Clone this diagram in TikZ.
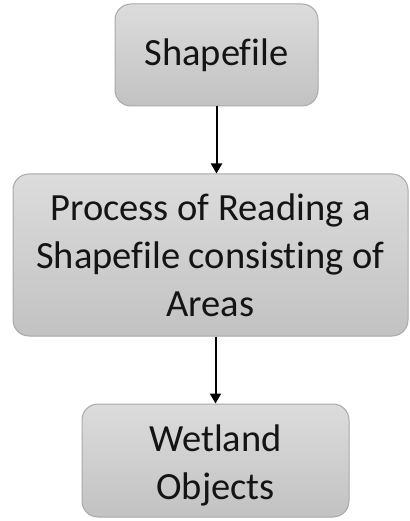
\documentclass[tikz,border=0pt]{standalone}
\usepackage{fontspec}
\setmainfont{Carlito}[Ligatures=NoCommon]
\usetikzlibrary{arrows.meta}
\definecolor{boxtop}{HTML}{DCDCDC}
\definecolor{boxbot}{HTML}{C2C2C2}
\definecolor{boxedge}{HTML}{A8A8A8}
\definecolor{ink}{HTML}{141414}
\begin{document}
\begin{tikzpicture}[x=1pt,y=-1pt,
  box/.style={draw=boxedge, line width=1pt, rounded corners=16pt,
    top color=boxtop, bottom color=boxbot, align=center, text=ink,
    font=\fontsize{38.5}{48}\selectfont, inner sep=0pt},
  flow/.style={-{Triangle[length=10pt,width=11pt]}, line width=2pt, draw=black}]
\useasboundingbox (0,0) rectangle (409,521);
% the three processing stages
\node[box, minimum width=203pt, minimum height=102pt] (shp) at (216.5,55) {Shapefile};
\node[box, minimum width=395pt, minimum height=162pt] (proc) at (210.5,255)
  {Process of Reading a\\Shapefile consisting of\\Areas};
\node[box, minimum width=267pt, minimum height=113pt] (wet) at (215.5,460.5)
  {\rule{0pt}{36pt}Wetland\\Objects};
% connectors
\draw[flow] (shp.south) -- (shp.south |- proc.north);
\draw[flow] (wet.north |- proc.south) -- (wet.north);
\end{tikzpicture}
\end{document}
